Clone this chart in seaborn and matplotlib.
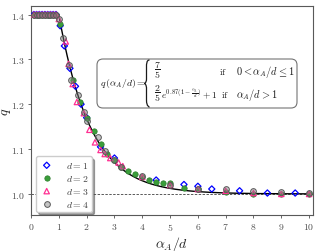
import numpy as np
import pandas as pd
import matplotlib
matplotlib.use("Agg")
import matplotlib.pyplot as plt
from matplotlib.patches import FancyBboxPatch, PathPatch
from matplotlib.path import Path
import seaborn as sns

sns.set_style("ticks")
plt.rcParams["mathtext.fontset"] = "cm"
plt.rcParams["font.family"] = ["DejaVu Serif"]

# ---- data ----
flat_x = [0.1, 0.2, 0.3, 0.4, 0.5, 0.6, 0.7, 0.8, 0.9]
flat_y = [1.4, 1.4, 1.4, 1.4, 1.4, 1.4, 1.4, 1.4, 1.4]

d1_x = flat_x + [1.05, 1.2, 1.4, 1.6, 1.8, 2.0, 2.5, 3.0, 4.5, 5.5, 6.0, 6.5, 7.5, 8.5, 9.5]
d1_y = flat_y + [1.375, 1.33, 1.28, 1.24, 1.20, 1.17, 1.105, 1.08, 1.031, 1.021, 1.017, 1.011, 1.007, 1.002, 1.002]

d2_x = flat_x + [1.05, 1.5, 1.75, 2.0, 2.25, 2.5, 2.75, 3.0, 3.25, 3.5, 3.75, 4.0, 4.25, 4.5, 4.75, 5.0, 5.5, 6.0, 7.0, 8.0, 9.0, 10.0]
d2_y = flat_y + [1.378, 1.255, 1.205, 1.17, 1.14, 1.112, 1.09, 1.075, 1.06, 1.051, 1.045, 1.037, 1.030, 1.026, 1.025, 1.024, 1.014, 1.012, 1.004, 1.0, 1.0, 1.0]

d3_x = flat_x + [1.0, 1.25, 1.35, 1.5, 1.65, 1.9, 2.1, 2.3, 2.5, 2.65, 2.85, 3.15, 3.3, 4.0, 5.0, 6.0, 7.0, 8.0, 9.0, 10.0]
d3_y = flat_y + [1.39, 1.34, 1.29, 1.245, 1.205, 1.18, 1.143, 1.115, 1.098, 1.089, 1.08, 1.07, 1.062, 1.038, 1.02, 1.011, 1.007, 1.002, 1.0, 1.0]

d4_x = flat_x + [1.0, 1.15, 1.35, 1.45, 1.7, 1.9, 2.0, 2.4, 2.65, 3.0, 3.25, 4.0, 5.0, 6.0, 7.0, 8.0, 9.0, 10.0]
d4_y = flat_y + [1.39, 1.347, 1.288, 1.255, 1.221, 1.182, 1.162, 1.126, 1.095, 1.075, 1.059, 1.039, 1.021, 1.012, 1.011, 1.006, 1.004, 1.002]

# model shown in the box: q = 7/5 (x<=1), 2/5 exp(0.87(1-x)) + 1 (x>1)
q_low = 7 / 5
amp = 2 / 5
rate = 0.87
curve_x = np.linspace(0, 10, 600)
curve_y = np.where(curve_x <= 1, q_low, amp * np.exp(rate * (1 - curve_x)) + 1)

x_ticks = [0, 1, 2, 3, 4, 5, 6, 7, 8, 9, 10]
y_ticks = [1.0, 1.1, 1.2, 1.3, 1.4]

W, H = 320, 253
fig = plt.figure(figsize=(3.2, 2.53), dpi=100)
ax = fig.add_axes([31 / W, 1 - 216 / H, (313 - 31) / W, (216 - 7) / H])

ax.axhline(1.0, color="0.35", ls="--", lw=0.7, dashes=(2.5, 1.5), zorder=1)
sns.lineplot(x=curve_x, y=curve_y, color="black", lw=1.0, ax=ax, zorder=2)

sns.scatterplot(x=d1_x, y=d1_y, marker="D", s=10, facecolor="none", edgecolor="blue",
                linewidth=0.9, label=r"$d=1$", ax=ax, zorder=3)
sns.scatterplot(x=d2_x, y=d2_y, marker="o", s=15, color="#3a9e3a", edgecolor="#2a7a2a",
                linewidth=0.5, label=r"$d=2$", ax=ax, zorder=3)
sns.scatterplot(x=d3_x, y=d3_y, marker="^", s=15, facecolor="none", edgecolor="#ff2f92",
                linewidth=0.9, label=r"$d=3$", ax=ax, zorder=3)
sns.scatterplot(x=d4_x, y=d4_y, marker="o", s=17, facecolor=(0.5, 0.5, 0.5, 0.45),
                edgecolor="0.35", linewidth=0.7, label=r"$d=4$", ax=ax, zorder=3)

ax.set_xlim(0, 10.14)
ax.set_ylim(0.953, 1.419)
ax.set_xticks(x_ticks)
ax.set_xticklabels([f"${t}$" for t in x_ticks])
ax.set_yticks(y_ticks)
ax.set_yticklabels([f"${t:.1f}$" for t in y_ticks])
ax.tick_params(labelsize=7, length=2.5, width=0.6, colors="0.3", pad=2)
for sp in ax.spines.values():
    sp.set_visible(True)
    sp.set_color("0.35")
    sp.set_linewidth(0.8)

ax.set_xlabel(r"$\alpha_A/d$", fontsize=10, labelpad=1)
ax.set_ylabel(r"$q$", fontsize=10)
ax.yaxis.set_label_coords(-(31 - 13) / 282, 0.5)

leg = ax.legend(loc="lower left", bbox_to_anchor=(5 / 282, 3 / 209), borderaxespad=0,
                fontsize=7, fancybox=True, shadow=True, framealpha=1, edgecolor="0.8",
                handletextpad=1.2, handlelength=1.5, labelspacing=0.3, borderpad=0.35)
for t in leg.get_texts():
    t.set_color("0.25")

# formula box
box = FancyBboxPatch((97 / 100, (H - 109) / 100), (297 - 97) / 100, 49 / 100,
                     boxstyle="round,pad=0,rounding_size=0.06", transform=fig.dpi_scale_trans,
                     facecolor="white", edgecolor="0.45", lw=0.8, zorder=5)
fig.patches.append(box)

def P(px, py):
    return (px / W, 1 - py / H)

# curly brace of the piecewise definition
verts = [P(149.5, 61), P(146.5, 61), P(146.5, 65), P(146.5, 68),
         P(146.5, 80),
         P(146.5, 84), P(144.2, 84.5), P(144.2, 84.5),
         P(146.5, 85), P(146.5, 89), P(146.5, 89),
         P(146.5, 101),
         P(146.5, 108), P(149.5, 108), P(149.5, 108)]
codes = [Path.MOVETO, Path.CURVE4, Path.CURVE4, Path.CURVE4,
         Path.LINETO,
         Path.CURVE4, Path.CURVE4, Path.CURVE4,
         Path.CURVE4, Path.CURVE4, Path.CURVE4,
         Path.LINETO,
         Path.CURVE4, Path.CURVE4, Path.CURVE4]
fig.patches.append(PathPatch(Path(verts, codes), transform=fig.transFigure, facecolor="none",
                             edgecolor="0.1", lw=0.9, zorder=6))

def ft(px, py, s, size=7.0, ha="left"):
    fig.text(px / W, 1 - py / H, s, fontsize=size, ha=ha, va="center", color="0.1", zorder=6)

ft(100, 84, r"$q\,(\alpha_A/d) =$", 7)
ft(154, 71, r"$\dfrac{7}{5}$", 7)
ft(154, 94, r"$\dfrac{2}{5}$", 7)
ft(161, 94, r"$e^{0.87(1-\frac{\alpha_A}{d})}+1$", 6.8)
ft(219, 72, r"$\mathrm{if}$", 7)
ft(221, 95, r"$\mathrm{if}$", 7)
ft(236, 72, r"$0<\alpha_A/d\leq 1$", 7.5)
ft(236, 95, r"$\alpha_A/d>1$", 7.5)

fig.savefig("out.png", dpi=100)
